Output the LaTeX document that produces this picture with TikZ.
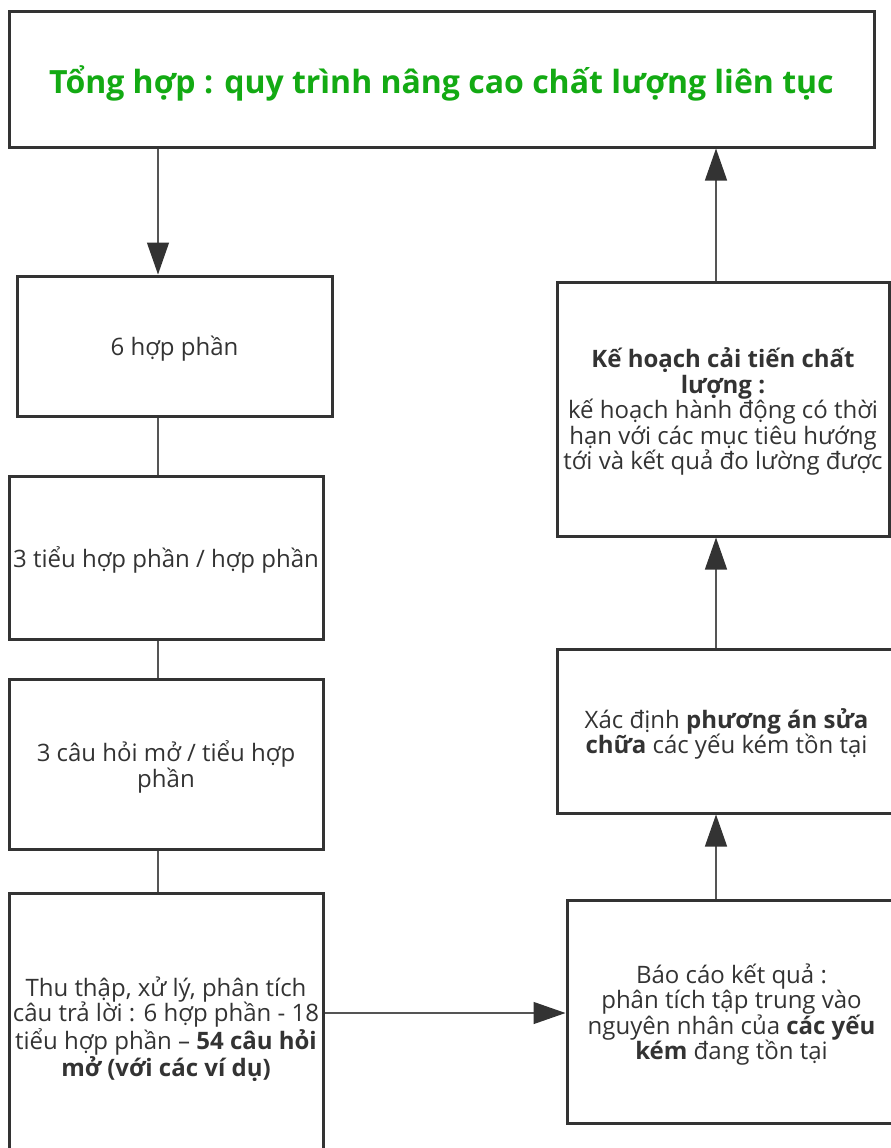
\documentclass[tikz,border=0pt]{standalone}
\usepackage{fontspec}
\setmainfont{Open Sans}
\usetikzlibrary{arrows.meta}
\definecolor{boxgray}{HTML}{333333}
\definecolor{linkgray}{HTML}{555555}
\definecolor{titlegreen}{HTML}{13AA13}
\tikzset{
  box/.style={draw=boxgray, line width=3pt, text=boxgray, align=center,
    inner sep=0pt, text depth=0pt, font=\fontsize{24}{25.5}\selectfont},
  link/.style={draw=linkgray, line width=1.3pt,
    -{Triangle[length=32pt,width=22pt,color=boxgray]}},
  joinline/.style={draw=linkgray, line width=1.3pt}
}
\begin{document}
\begin{tikzpicture}[x=1pt,y=-1pt]
  \useasboundingbox (0,0) rectangle (891,1148);
  \coordinate (lcol) at (158,0);
  \coordinate (rcol) at (716,0);
  \coordinate (arow) at (0,1013);

  \node[box, minimum width=865pt, minimum height=135pt,
    font=\fontsize{32}{36}\selectfont\bfseries, text=titlegreen] (tonghop) at (441.5,79.5)
    {Tổng hợp : quy trình nâng cao chất lượng liên tục};

  \node[box, minimum width=315pt, minimum height=140pt] (hopphan) at (174.5,346) {6 hợp phần};
  \node[box, minimum width=314pt, minimum height=163pt] (tieuhp) at (166,557.5)
    {3 tiểu hợp phần / hợp phần};
  \node[box, minimum width=314pt, minimum height=170pt] (cauhoi) at (166,764)
    {3 câu hỏi mở / tiểu hợp\\phần};
  \node[box, minimum width=314pt, minimum height=267pt] (thuthap) at (166,1026.5)
    {Thu thập, xử lý, phân tích\\câu trả lời : 6 hợp phần - 18\\tiểu hợp phần – \textbf{54 câu hỏi}\\\textbf{mở (với các ví dụ)}};

  \node[box, minimum width=329pt, minimum height=223pt] (baocao) at (731.5,1011.5)
    {Báo cáo kết quả :\\phân tích tập trung vào\\nguyên nhân của \textbf{các yếu}\\\textbf{kém} đang tồn tại};
  \node[box, minimum width=339pt, minimum height=164pt] (xacdinh) at (726.5,731)
    {Xác định \textbf{phương án sửa}\\\textbf{chữa} các yếu kém tồn tại};
  \node[box, minimum width=332pt, minimum height=254pt] (kehoach) at (723,409)
    {\textbf{Kế hoạch cải tiến chất}\\\textbf{lượng :}\\kế hoạch hành động có thời\\hạn với các mục tiêu hướng\\tới và kết quả đo lường được};

  \draw[link] (tonghop.south -| lcol) -- (hopphan.north -| lcol);
  \draw[joinline] (hopphan.south -| lcol) -- (tieuhp.north -| lcol);
  \draw[joinline] (tieuhp.south -| lcol) -- (cauhoi.north -| lcol);
  \draw[joinline] (cauhoi.south -| lcol) -- (thuthap.north -| lcol);
  \draw[link] (thuthap.east |- arow) -- (baocao.west |- arow);
  \draw[link] (baocao.north -| rcol) -- (xacdinh.south -| rcol);
  \draw[link] (xacdinh.north -| rcol) -- (kehoach.south -| rcol);
  \draw[link] (kehoach.north -| rcol) -- (tonghop.south -| rcol);
\end{tikzpicture}
\end{document}
